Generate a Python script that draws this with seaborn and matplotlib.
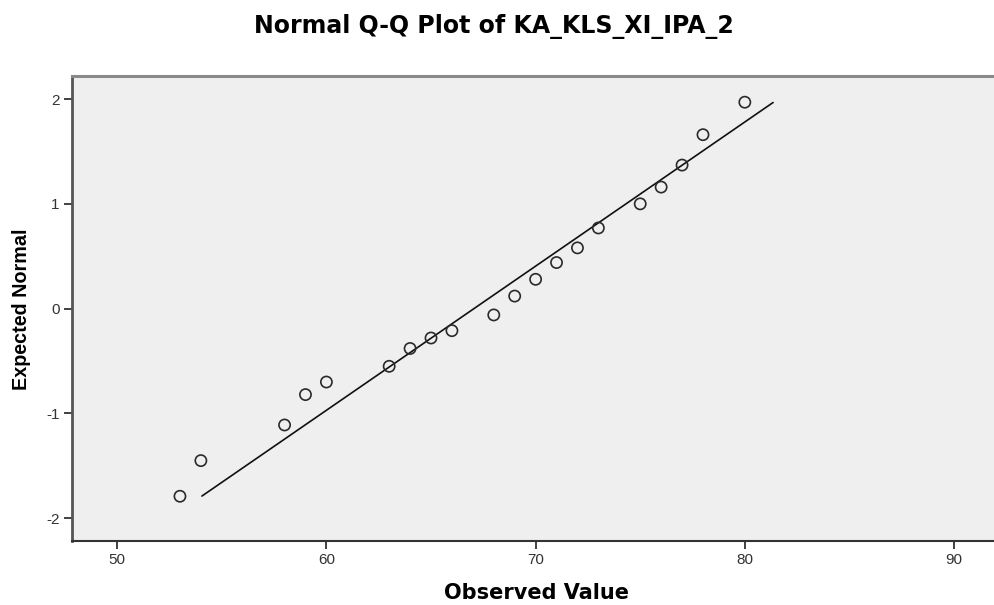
import matplotlib
matplotlib.use("Agg")
import matplotlib.pyplot as plt
import seaborn as sns
import numpy as np
import pandas as pd

# Data
observed = [53, 54, 58, 59, 60, 63, 64, 65, 66, 68, 69, 70, 71, 72, 73, 75, 76, 77, 78, 80]
expected = [-1.79, -1.45, -1.11, -0.82, -0.70, -0.55, -0.38, -0.28, -0.21, -0.06,
            0.12, 0.28, 0.44, 0.58, 0.77, 1.00, 1.16, 1.37, 1.66, 1.97]
line_mean = 67.05
line_sd = 7.27
line_range = [54.05, 81.35]

x_ticks = [50, 60, 70, 80, 90]
y_ticks = [-2, -1, 0, 1, 2]

sns.set_theme(style="white")
plt.rcParams['font.family'] = ['Liberation Sans', 'DejaVu Sans']
plt.rcParams['axes.unicode_minus'] = False

fig = plt.figure(figsize=(9.94, 6.05), dpi=100)
ax = fig.add_axes([72/994, 1 - 541/605, (994 - 72)/994, (541 - 76)/605])
ax.set_facecolor('#efefef')

df = pd.DataFrame({'obs': observed, 'exp': expected})
line_df = pd.DataFrame({'x': line_range,
                        'y': [(v - line_mean) / line_sd for v in line_range]})

sns.lineplot(data=line_df, x='x', y='y', ax=ax, color='#111111', linewidth=1.2, zorder=2)
sns.scatterplot(data=df, x='obs', y='exp', ax=ax, s=65, facecolors='none',
                edgecolor='#2a2a2a', linewidth=1.2, marker='o', zorder=3)

ax.set_xlim(47.84, 91.91)
ax.set_ylim(-2.217, 2.22)
ax.set_xticks(x_ticks)
ax.set_yticks(y_ticks)
ax.tick_params(axis='both', direction='out', length=6, width=1.3, color='#333333',
               labelsize=11, labelcolor='#333333', bottom=True, left=True, pad=3)

ax.spines['right'].set_visible(False)
ax.spines['top'].set_color('#8a8a8a')
ax.spines['top'].set_linewidth(2.2)
ax.spines['left'].set_color('#555555')
ax.spines['left'].set_linewidth(2.0)
ax.spines['bottom'].set_color('#333333')
ax.spines['bottom'].set_linewidth(1.5)

ax.set_xlabel('Observed Value', fontsize=15, fontweight='bold', color='black',
              family=['DejaVu Sans'], va='baseline', ha='center')
ax.xaxis.set_label_coords((536 - 72) / 922, (541 - 599) / 465)
ax.set_ylabel('Expected Normal', fontsize=14.2, fontweight='bold', color='black',
              family=['Liberation Sans'], va='center', ha='center')
ax.yaxis.set_label_coords((22 - 72) / 922, (541 - 309) / 465)

fig.text(494 / 994, 1 - 33/605, 'Normal Q-Q Plot of KA_KLS_XI_IPA_2',
         ha='center', va='baseline', fontsize=17, fontweight='bold', color='black',
         family=['DejaVu Sans'])

fig.savefig('out.png', dpi=100, facecolor='white')
